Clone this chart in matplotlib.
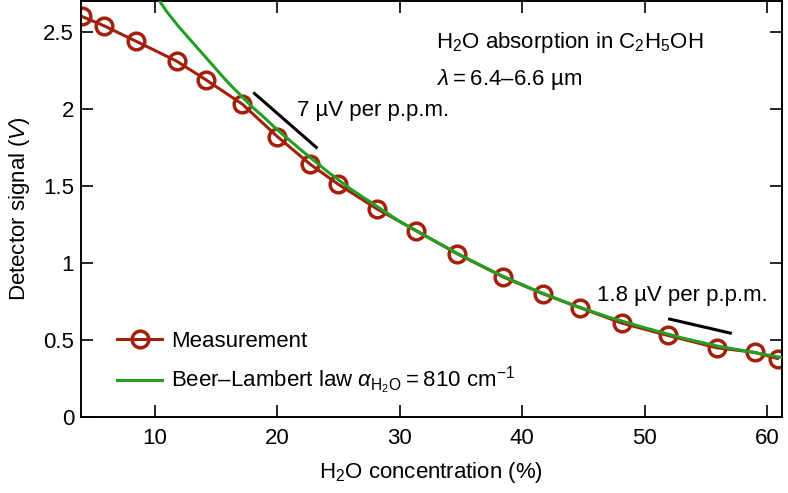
import matplotlib
matplotlib.use("Agg")
import matplotlib.pyplot as plt

plt.rcParams['font.family'] = ['Liberation Sans', 'DejaVu Sans']
plt.rcParams['mathtext.fontset'] = 'custom'
plt.rcParams['mathtext.rm'] = 'Liberation Sans'
plt.rcParams['mathtext.it'] = 'Liberation Sans:italic'
plt.rcParams['mathtext.bf'] = 'Liberation Sans:bold'

conc_meas = [4.05, 5.84, 8.45, 11.79, 14.16, 17.17, 20.02, 22.71, 25.0, 28.17,
             31.35, 34.7, 38.44, 41.7, 44.72, 48.14, 51.89, 55.88, 58.98, 60.86]
sig_meas = [2.60, 2.54, 2.44, 2.31, 2.19, 2.03, 1.82, 1.64, 1.51, 1.35,
            1.21, 1.06, 0.91, 0.80, 0.71, 0.61, 0.53, 0.45, 0.42, 0.38]

# Beer-Lambert curve
conc_bl = [10.4, 11, 12, 13, 14, 15, 16, 17, 18, 19, 20, 22, 24, 26, 28, 30, 32,
           35, 38, 41, 44, 47, 50, 53, 56, 59, 61.3]
sig_bl = [2.70, 2.63, 2.53, 2.44, 2.35, 2.26, 2.17, 2.09, 2.01, 1.94, 1.865, 1.73, 1.60,
          1.48, 1.375, 1.27, 1.18, 1.05, 0.93, 0.825, 0.732, 0.65, 0.58, 0.515, 0.46, 0.418, 0.385]

# slope guide lines
slope1_x = [18.15, 23.2]
slope1_y = [2.10, 1.75]
slope2_x = [52.05, 57.0]
slope2_y = [0.636, 0.545]

red = '#a3200c'
green = '#23a023'
fs = 16

fig = plt.figure(figsize=(7.88, 4.93), dpi=100)
ax = fig.add_axes([0.103, 0.154, 0.889, 0.844])

ax.plot(conc_meas, sig_meas, '-o', color=red, lw=2.2, ms=12, mfc='none', mew=2.5,
        label='Measurement', zorder=2)
ax.plot(conc_bl, sig_bl, '-', color=green, lw=2.2,
        label='Beer\u2013Lambert law $\\alpha_{\\mathrm{H_2O}}$\u2009=\u2009810 cm$^{-1}$', zorder=3)
ax.plot(slope1_x, slope1_y, color='black', lw=2.2)
ax.plot(slope2_x, slope2_y, color='black', lw=2.2)

ax.text(21.6, 1.99, '7 \u00b5V per p.p.m.', fontsize=fs, va='center')
ax.text(46.1, 0.79, '1.8 \u00b5V per p.p.m.', fontsize=fs, va='center')
ax.text(33.0, 2.43, 'H$_2$O absorption in C$_2$H$_5$OH', fontsize=fs, va='center')
ax.text(33.0, 2.19, '$\\lambda$\u2009=\u20096.4\u20136.6 \u00b5m', fontsize=fs, va='center')

ax.set_xlim(4, 61.2)
ax.set_ylim(0, 2.7)
ax.set_xticks([10, 20, 30, 40, 50, 60])
ax.set_yticks([0, 0.5, 1, 1.5, 2, 2.5])
ax.set_yticklabels(['0', '0.5', '1', '1.5', '2', '2.5'])
ax.tick_params(direction='in', length=8.5, width=1.2, labelsize=fs, top=True, right=True)
ax.tick_params(axis='x', pad=8)
ax.tick_params(axis='y', pad=5)
for s in ax.spines.values():
    s.set_linewidth(1.4)

ax.set_xlabel('H$_2$O concentration (%)', fontsize=fs, labelpad=8)
ax.set_ylabel('Detector signal ($V$)', fontsize=fs, labelpad=8)

ax.legend(loc='lower left', bbox_to_anchor=(0.039, 0.026), frameon=False, fontsize=fs,
          handlelength=2.0, handletextpad=0.4, labelspacing=0.6, borderaxespad=0)

fig.savefig('out.png', dpi=100)
